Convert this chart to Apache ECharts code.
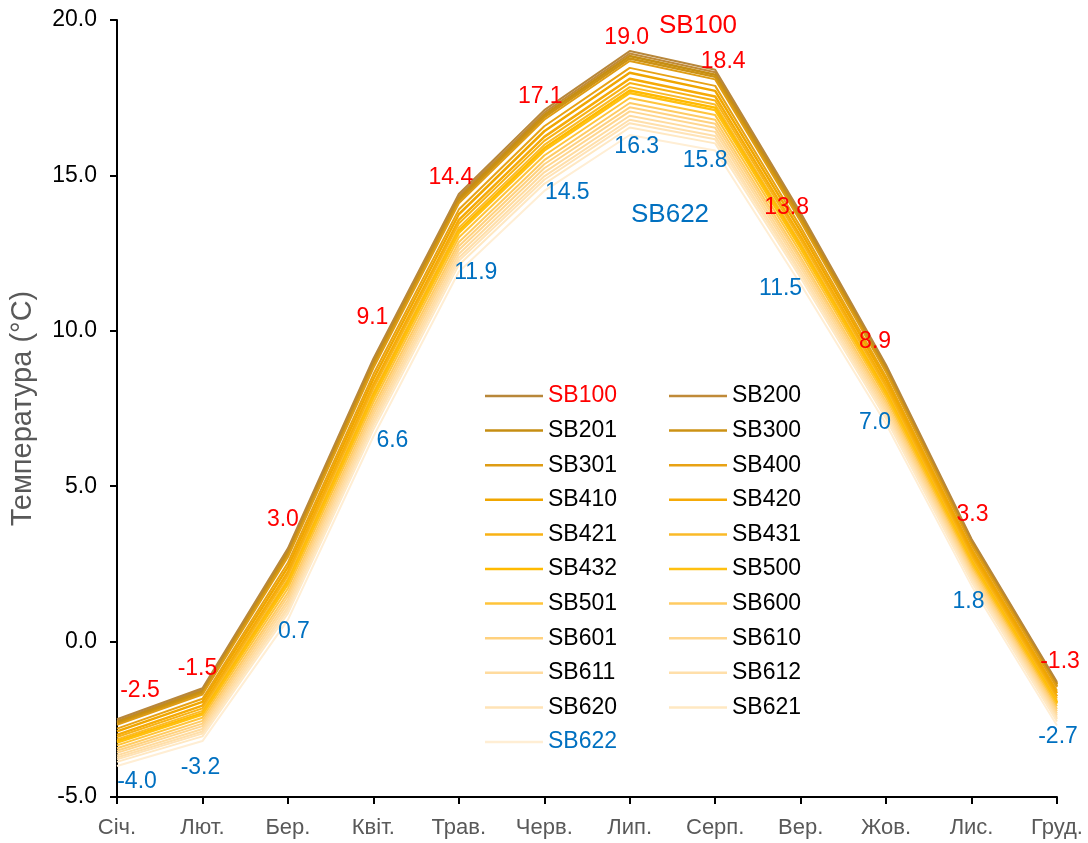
<!DOCTYPE html>
<html lang="uk">
<head>
    <meta charset="UTF-8">
    <style>
        html, body { margin: 0; padding: 0; background: #fff; }
        #main { width: 1088px; height: 843px; }
    </style>
    <script src="https://cdn.jsdelivr.net/npm/echarts@6/dist/echarts.min.js"></script>
    <title>Температура</title>
</head>
<body>
    <div id="main"></div>
    <script>
        // місяці
        var months = ['Січ.', 'Лют.', 'Бер.', 'Квіт.', 'Трав.', 'Черв.', 'Лип.', 'Серп.', 'Вер.', 'Жов.', 'Лис.', 'Груд.'];

        // середньомісячна температура, °C
        var SB100 = [-2.5, -1.5, 3.0, 9.1, 14.4, 17.1, 19.0, 18.4, 13.8, 8.9, 3.3, -1.3];
        var SB200 = [-2.55, -1.55, 2.93, 9.03, 14.33, 17.02, 18.92, 18.32, 13.73, 8.84, 3.26, -1.34];
        var SB201 = [-2.59, -1.60, 2.86, 8.95, 14.25, 16.94, 18.84, 18.24, 13.66, 8.79, 3.21, -1.38];
        var SB300 = [-2.64, -1.65, 2.79, 8.88, 14.18, 16.87, 18.76, 18.17, 13.59, 8.73, 3.17, -1.43];
        var SB301 = [-2.68, -1.70, 2.72, 8.80, 14.10, 16.79, 18.68, 18.09, 13.52, 8.67, 3.12, -1.47];
        var SB400 = [-2.80, -1.84, 2.54, 8.60, 13.90, 16.58, 18.46, 17.88, 13.34, 8.52, 3.00, -1.58];
        var SB410 = [-2.89, -1.94, 2.40, 8.45, 13.75, 16.42, 18.30, 17.72, 13.20, 8.41, 2.91, -1.66];
        var SB420 = [-3.00, -2.06, 2.24, 8.27, 13.57, 16.24, 18.11, 17.54, 13.04, 8.27, 2.80, -1.76];
        var SB421 = [-3.07, -2.15, 2.13, 8.15, 13.45, 16.11, 17.97, 17.41, 12.93, 8.18, 2.73, -1.83];
        var SB431 = [-3.15, -2.23, 2.01, 8.02, 13.32, 15.98, 17.84, 17.28, 12.81, 8.08, 2.65, -1.90];
        var SB432 = [-3.21, -2.30, 1.92, 7.92, 13.22, 15.88, 17.73, 17.18, 12.72, 8.01, 2.59, -1.96];
        var SB500 = [-3.25, -2.35, 1.85, 7.85, 13.15, 15.80, 17.65, 17.10, 12.65, 7.95, 2.55, -2.00];
        var SB501 = [-3.34, -2.45, 1.71, 7.70, 13.00, 15.64, 17.49, 16.94, 12.51, 7.84, 2.46, -2.08];
        var SB600 = [-3.43, -2.55, 1.57, 7.55, 12.85, 15.49, 17.33, 16.79, 12.37, 7.72, 2.37, -2.17];
        var SB601 = [-3.51, -2.64, 1.46, 7.42, 12.72, 15.36, 17.19, 16.66, 12.26, 7.63, 2.29, -2.24];
        var SB610 = [-3.58, -2.72, 1.34, 7.30, 12.60, 15.23, 17.06, 16.53, 12.14, 7.53, 2.22, -2.31];
        var SB611 = [-3.66, -2.81, 1.23, 7.17, 12.47, 15.10, 16.92, 16.40, 12.03, 7.44, 2.14, -2.38];
        var SB612 = [-3.73, -2.89, 1.11, 7.05, 12.35, 14.97, 16.79, 16.27, 11.91, 7.34, 2.07, -2.45];
        var SB620 = [-3.79, -2.96, 1.02, 6.95, 12.25, 14.86, 16.68, 16.16, 11.82, 7.27, 2.01, -2.50];
        var SB621 = [-3.87, -3.05, 0.91, 6.82, 12.12, 14.73, 16.54, 16.03, 11.71, 7.17, 1.93, -2.57];
        var SB622 = [-4.0, -3.2, 0.7, 6.6, 11.9, 14.5, 16.3, 15.8, 11.5, 7.0, 1.8, -2.7];

        var names = ['SB100', 'SB200', 'SB201', 'SB300', 'SB301', 'SB400', 'SB410', 'SB420', 'SB421', 'SB431', 'SB432',
            'SB500', 'SB501', 'SB600', 'SB601', 'SB610', 'SB611', 'SB612', 'SB620', 'SB621', 'SB622'];
        var values = [SB100, SB200, SB201, SB300, SB301, SB400, SB410, SB420, SB421, SB431, SB432,
            SB500, SB501, SB600, SB601, SB610, SB611, SB612, SB620, SB621, SB622];

        // стилі ліній
        var colors = ['#B8873A', '#C08A38', '#C68E12', '#CC9214', '#DE9C14', '#E8A214', '#F0A600', '#F5AA08', '#F8B214',
            '#FABA28', '#FFBA00', '#FFC010', '#FFC43A', '#FFCB62', '#FFD17E', '#FFD68E', '#FFDB9E', '#FFDFAA',
            '#FFE3B6', '#FFE8C2', '#FFEED4'];
        var widths = [2, 2, 2.5, 2.5, 2, 2, 2.5, 2.5, 2, 2, 2.5, 2.5, 2, 2, 2, 2, 2, 2, 2, 2, 2];

        // зміщення підписів (центр підпису відносно точки), px
        var redOffsets = [[23, -29], [-5, -20], [-5, -29], [-1, -41], [-8, -16], [-4, -13], [-3, -13], [8, -8],
            [-14, -5], [-11, -23], [1, -24], [3, -20]];
        var blueOffsets = [[20, 16], [-2, 27], [6, 12], [19, 4], [17, 1], [23, 2], [7, 12], [-10, 10],
            [-20, 4], [-11, -1], [-3, 16], [1, 11]];

        var col1 = ['SB100', 'SB201', 'SB301', 'SB410', 'SB421', 'SB432', 'SB501', 'SB601', 'SB611', 'SB620', 'SB622'];
        var col2 = ['SB200', 'SB300', 'SB400', 'SB420', 'SB431', 'SB500', 'SB600', 'SB610', 'SB612', 'SB621'];

        function legendItem(n) {
            var c = n === 'SB100' ? '#FF0000' : (n === 'SB622' ? '#0070C0' : '#000000');
            return { name: n, textStyle: { color: c } };
        }

        var legendBase = {
            orient: 'vertical',
            top: 378,
            icon: 'rect',
            itemWidth: 58,
            itemHeight: 2.5,
            itemGap: 8.6,
            selectedMode: false,
            textStyle: { fontSize: 23, lineHeight: 26, fontFamily: 'Arial' }
        };

        var series = names.map(function (n, k) {
            var s = {
                name: n,
                type: 'line',
                symbol: 'none',
                z: 2,
                lineStyle: { color: colors[k], width: widths[k] },
                itemStyle: { color: colors[k] },
                data: values[k]
            };
            if (n === 'SB100' || n === 'SB622') {
                var offs = n === 'SB100' ? redOffsets : blueOffsets;
                s.symbol = 'circle';
                s.symbolSize = 0;
                s.showSymbol = true;
                s.label = {
                    show: true,
                    position: 'inside',
                    fontSize: 23,
                    fontFamily: 'Arial',
                    color: n === 'SB100' ? '#FF0000' : '#0070C0',
                    formatter: function (p) { return p.value.toFixed(1); }
                };
                s.data = values[k].map(function (v, i) {
                    return { value: v, label: { offset: offs[i] } };
                });
                s.z = 5;
            }
            return s;
        });

        var myChart = echarts.init(document.getElementById('main'));
        var option = {
            animation: false,
            grid: { left: 117, right: 31, top: 20, bottom: 46, outerBoundsMode: 'none', containLabel: false },
            legend: [
                Object.assign({ left: 480, data: col1.map(legendItem) }, legendBase),
                Object.assign({ left: 664, data: col2.map(legendItem) }, legendBase)
            ],
            xAxis: {
                type: 'category',
                boundaryGap: false,
                data: months,
                axisLine: { onZero: false, lineStyle: { color: '#000', width: 2 } },
                axisTick: { show: true, length: 7, lineStyle: { color: '#000', width: 2 } },
                axisLabel: { color: '#595959', fontSize: 22, fontFamily: 'Arial', margin: 20 }
            },
            yAxis: {
                type: 'value',
                min: -5,
                max: 20,
                interval: 5,
                name: 'Температура (°C)',
                nameLocation: 'middle',
                nameGap: 80,
                nameTextStyle: { color: '#595959', fontSize: 29, fontFamily: 'Arial' },
                splitLine: { show: false },
                axisLine: { show: true, lineStyle: { color: '#000', width: 2 } },
                axisTick: { show: true, length: 7, lineStyle: { color: '#000', width: 2 } },
                axisLabel: {
                    color: '#000', fontSize: 23, fontFamily: 'Arial', margin: 20,
                    formatter: function (v) { return v.toFixed(1); }
                }
            },
            graphic: [
                { type: 'text', left: 659, top: 13, style: { text: 'SB100', fill: '#FF0000', fontSize: 26, fontFamily: 'Arial' } },
                { type: 'text', left: 631, top: 202, style: { text: 'SB622', fill: '#0070C0', fontSize: 26, fontFamily: 'Arial' } }
            ],
            series: series
        };
        myChart.setOption(option);
    </script>
</body>
</html>
